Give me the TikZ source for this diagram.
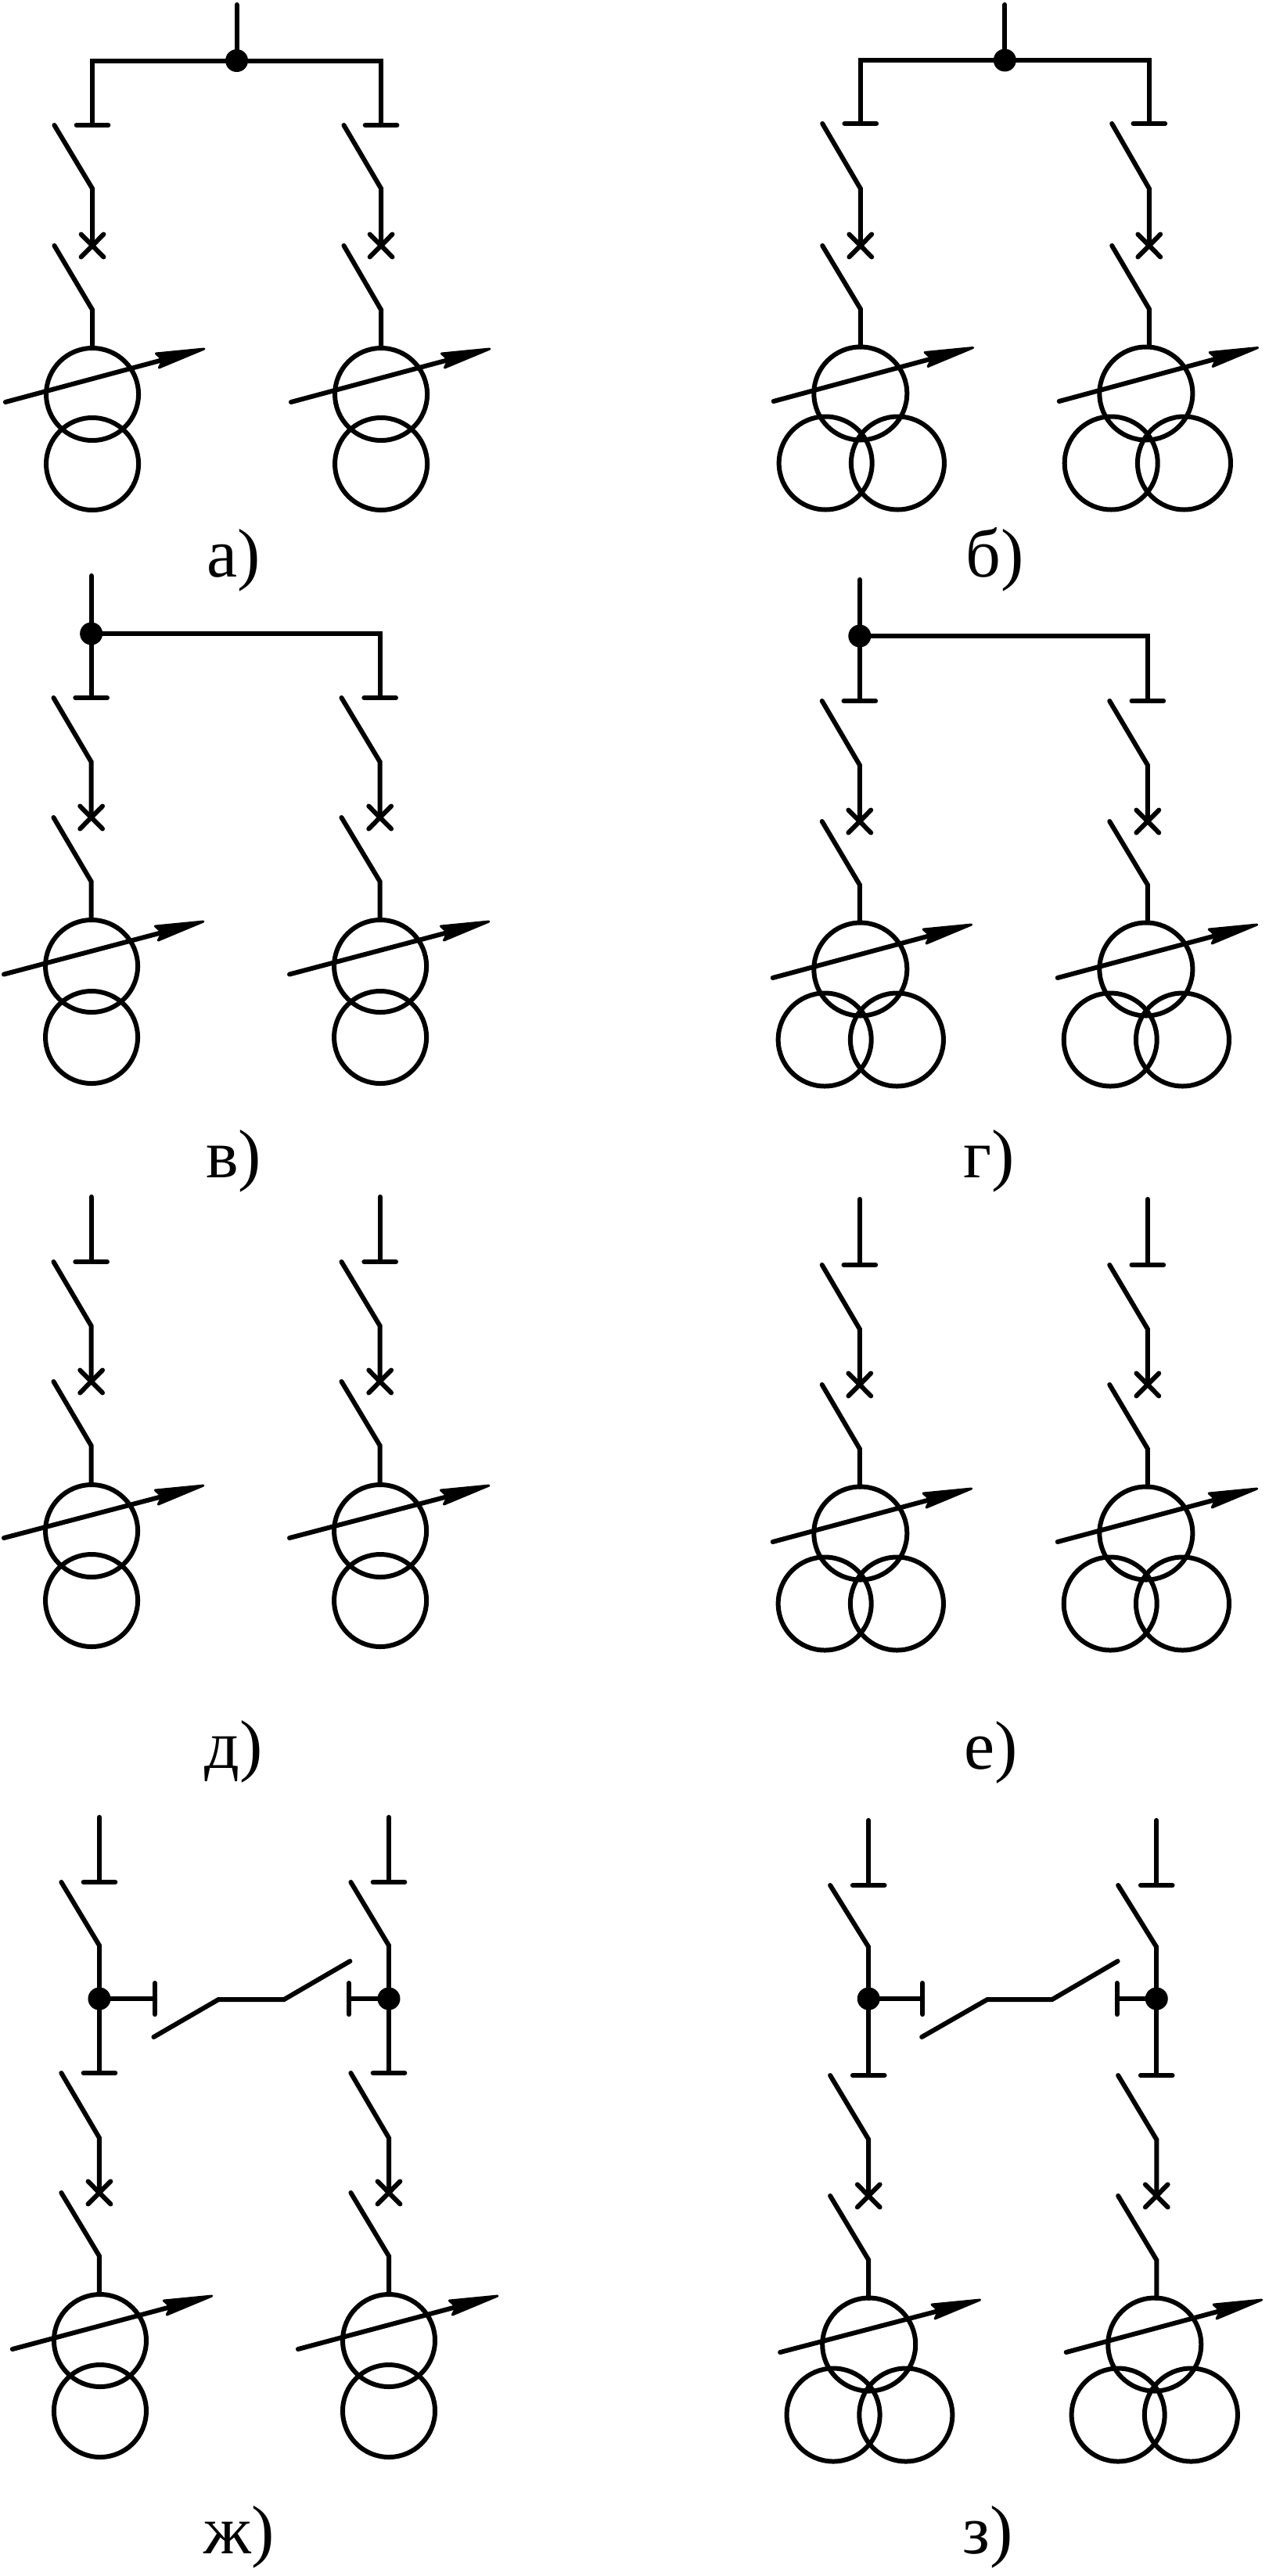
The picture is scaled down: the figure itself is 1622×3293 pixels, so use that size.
\documentclass[tikz,border=0pt]{standalone}
\usepackage{fontspec}
\setmainfont{Liberation Serif}
\tikzset{
  wire/.style={line width=6pt,line cap=round,line join=miter,black},
  jdot/.style={circle,fill=black,draw=none,inner sep=0pt,minimum size=29pt},
  lbl/.style={anchor=base,inner sep=0pt,font=\fontsize{88}{100}\selectfont},
  leftcol/.style={x=0.992pt},
  rightcol/.style={x=0.992pt,xshift=7.6pt},
}
% x of line, x of switch blade top, y of bar, y blade end, y cross, y blade 2 end, y circle top
\newcommand{\bay}[7]{%
  \draw[wire] (#1-20.5,#3) -- (#1+20.5,#3);
  \draw[wire] (#2,#3) -- (#1,#4) -- (#1,#5);
  \draw[wire] (#1-14.5,#5-14.5) -- (#1+14.5,#5+14.5);
  \draw[wire] (#1+14.5,#5-14.5) -- (#1-14.5,#5+14.5);
  \draw[wire] (#2,#5) -- (#1,#6) -- (#1,#7);
}
\newcommand{\rarrow}[4]{%
  \draw[wire] (#1,#2) -- (#3-55,#4+14.5);
  \fill[black,draw=black,line width=3pt,line join=round] (#3,#4) -- (#3-62,#4+6) -- (#3-53,#4+14) -- (#3-58,#4+24) -- cycle;
}
% cx, c1y, c2y, tail x, tail y, tip x, tip y
\newcommand{\txtwo}[7]{%
  \draw[wire] (#1,#2) circle[radius=59pt];
  \draw[wire] (#1,#3) circle[radius=59pt];
  \rarrow{#4}{#5}{#6}{#7}
}
% cx, lower left x, lower right x, c1y, c2y, tail x, tail y, tip x, tip y
\newcommand{\txthree}[9]{%
  \draw[wire] (#1,#4) circle[radius=59.5pt];
  \draw[wire] (#2,#5) circle[radius=59.5pt];
  \draw[wire] (#3,#5) circle[radius=59.5pt];
  \rarrow{#6}{#7}{#8}{#9}
}
\begin{document}
\begin{tikzpicture}[x=1pt,y=-1pt]
\useasboundingbox (0,0) rectangle (1622,3293);
\begin{scope}[leftcol]
% --- a
\coordinate (ta) at (305,6);
\coordinate (ta1) at (119,160);
\coordinate (ta2) at (491,160);
\node[jdot] (da) at (305,77.5) {};
\draw[wire] (ta) -- (da);
\draw[wire] (da) -| (ta1);
\draw[wire] (da) -| (ta2);
\bay{119}{70}{160}{241}{314}{396}{443}
\bay{491}{443}{160}{241}{314}{396}{443}
\txtwo{119}{504}{593}{7}{514}{263}{446}
\txtwo{491}{504}{593}{375}{514}{631}{446}
\node[lbl] (la) at (301,737) {а)};
% --- v
\coordinate (tv) at (117.6,736);
\coordinate (tv1) at (117.6,892);
\coordinate (tv2) at (489.6,892);
\node[jdot] (dv) at (117.6,810) {};
\draw[wire] (tv) -- (dv);
\draw[wire] (dv) -- (tv1);
\draw[wire] (dv) -| (tv2);
\bay{117.6}{69}{892}{974}{1045}{1127}{1176}
\bay{489.6}{440}{892}{974}{1045}{1127}{1176}
\txtwo{118}{1235}{1326}{5}{1245.5}{262}{1178}
\txtwo{490}{1235}{1326}{373}{1245.5}{630}{1178}
\node[lbl] (lv) at (301,1505) {в)};
% --- d
\coordinate (td1) at (117.6,1530);
\coordinate (td2) at (489.6,1530);
\coordinate (bd1) at (117.6,1613);
\coordinate (bd2) at (489.6,1613);
\draw[wire] (td1) -- (bd1);
\draw[wire] (td2) -- (bd2);
\bay{117.6}{69}{1613}{1695}{1766}{1848}{1897}
\bay{489.6}{440}{1613}{1695}{1766}{1848}{1897}
\txtwo{118}{1957}{2046}{5}{1966}{262}{1899}
\txtwo{490}{1957}{2046}{373}{1966}{630}{1899}
\node[lbl] (ld) at (301,2260) {д)};
% --- zh
\coordinate (tz1) at (128,2323);
\coordinate (tz2) at (501,2323);
\coordinate (bz1) at (128,2406);
\coordinate (bz2) at (501,2406);
\draw[wire] (tz1) -- (bz1);
\draw[wire] (tz2) -- (bz2);
\draw[wire] (107.5,2406) -- (148.5,2406);
\draw[wire] (480.5,2406) -- (521.5,2406);
\coordinate (m1) at (128,2487);
\coordinate (m2) at (501,2487);
\draw[wire] (79,2406) -- (m1);
\draw[wire] (452,2406) -- (m2);
\node[jdot] (dz1) at (128,2555) {};
\node[jdot] (dz2) at (501,2555) {};
\coordinate (lz1) at (128,2650);
\coordinate (lz2) at (501,2650);
\draw[wire] (m1) -- (dz1) -- (lz1);
\draw[wire] (m2) -- (dz2) -- (lz2);
\coordinate (hz1) at (199.5,2555);
\coordinate (hz2) at (449.5,2555);
\draw[wire] (dz1) -- (hz1);
\draw[wire] (dz2) -- (hz2);
\draw[wire] (199.5,2535) -- (199.5,2575);
\draw[wire] (449.5,2535) -- (449.5,2575);
\draw[wire] (198,2604) -- (281.5,2556) -- (366,2556) -- (451,2507);
\bay{128}{79}{2650}{2733}{2803}{2884}{2933}
\bay{501}{452}{2650}{2733}{2803}{2884}{2933}
\txtwo{129}{2992}{3082}{16}{3003}{273}{2935}
\txtwo{501}{2992}{3082}{384}{3003}{641}{2935}
\node[lbl] (lz) at (308.5,3264) {ж)};
\end{scope}
\begin{scope}[rightcol]
% --- b
\coordinate (tb) at (1287,6);
\coordinate (tb1) at (1101,158);
\coordinate (tb2) at (1473,158);
\node[jdot] (db) at (1287,77) {};
\draw[wire] (tb) -- (db);
\draw[wire] (db) -| (tb1);
\draw[wire] (db) -| (tb2);
\bay{1101}{1052}{158}{241}{314}{395}{442}
\bay{1473}{1425}{158}{241}{314}{395}{442}
\txthree{1101}{1056}{1149}{503}{592}{989}{513}{1246}{444.5}
\txthree{1469}{1424}{1518}{503}{592}{1357}{513}{1613}{444.5}
\node[lbl] (lb) at (1274,737) {б)};
% --- g
\coordinate (tg) at (1100,741);
\coordinate (tg1) at (1100,896);
\coordinate (tg2) at (1471,896);
\node[jdot] (dg) at (1100,813) {};
\draw[wire] (tg) -- (dg);
\draw[wire] (dg) -- (tg1);
\draw[wire] (dg) -| (tg2);
\bay{1100}{1051.5}{896}{978}{1050}{1131}{1179}
\bay{1471}{1422}{896}{978}{1050}{1131}{1179}
\txthree{1101}{1055}{1148}{1239}{1329}{988}{1250}{1244}{1182}
\txthree{1469}{1423}{1516}{1239}{1329}{1355}{1250}{1612}{1182}
\node[lbl] (lg) at (1267,1505) {г)};
% --- e
\coordinate (te1) at (1100,1533);
\coordinate (te2) at (1471,1533);
\coordinate (be1) at (1100,1617);
\coordinate (be2) at (1471,1617);
\draw[wire] (te1) -- (be1);
\draw[wire] (te2) -- (be2);
\bay{1100}{1051.5}{1617}{1699}{1770}{1852}{1900.5}
\bay{1471}{1422}{1617}{1699}{1770}{1852}{1900.5}
\txthree{1101}{1055}{1148}{1960}{2050}{988}{1971}{1244}{1903}
\txthree{1469}{1423}{1516}{1960}{2050}{1355}{1971}{1612}{1903}
\node[lbl] (le) at (1269,2261) {е)};
% --- z
\coordinate (ty1) at (1111.5,2327);
\coordinate (ty2) at (1482.5,2327);
\coordinate (by1) at (1111.5,2410);
\coordinate (by2) at (1482.5,2410);
\draw[wire] (ty1) -- (by1);
\draw[wire] (ty2) -- (by2);
\draw[wire] (1091,2410) -- (1132,2410);
\draw[wire] (1462,2410) -- (1503,2410);
\coordinate (my1) at (1111.5,2489);
\coordinate (my2) at (1482.5,2489);
\draw[wire] (1062,2410) -- (my1);
\draw[wire] (1433,2410) -- (my2);
\node[jdot] (dy1) at (1111.5,2555) {};
\node[jdot] (dy2) at (1482.5,2555) {};
\coordinate (ly1) at (1111.5,2653);
\coordinate (ly2) at (1482.5,2653);
\draw[wire] (my1) -- (dy1) -- (ly1);
\draw[wire] (my2) -- (dy2) -- (ly2);
\coordinate (hy1) at (1181,2555);
\coordinate (hy2) at (1431.6,2555);
\draw[wire] (dy1) -- (hy1);
\draw[wire] (dy2) -- (hy2);
\draw[wire] (1181,2535) -- (1181,2575);
\draw[wire] (1431.6,2535) -- (1431.6,2575);
\draw[wire] (1180,2604) -- (1264.5,2556) -- (1348,2556) -- (1432.5,2507);
\bay{1111.5}{1062}{2653}{2735}{2807}{2889}{2938}
\bay{1482.5}{1433}{2653}{2735}{2807}{2889}{2938}
\txthree{1112}{1066}{1159.5}{2997}{3087}{997.5}{3007}{1255}{2940}
\txthree{1480}{1433}{1527}{2997}{3087}{1366}{3007}{1618}{2940}
\node[lbl] (ly) at (1265,3264) {з)};
\end{scope}
\end{tikzpicture}
\end{document}
